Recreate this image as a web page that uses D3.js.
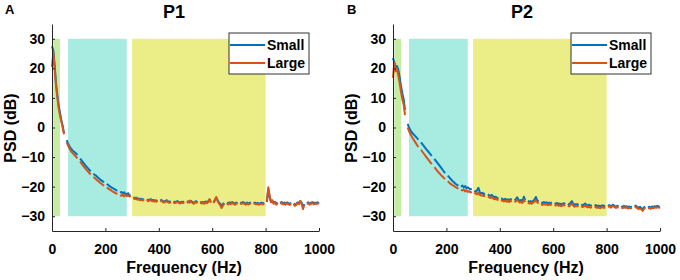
<!DOCTYPE html>
<html><head><meta charset="utf-8">
<script src="https://cdn.jsdelivr.net/npm/d3@7"></script>
<style>body{margin:0;background:#fff}svg{display:block}text{font-family:"Liberation Sans",Arial,sans-serif;font-weight:bold;fill:#000}</style>
</head><body><svg id="c" width="680" height="280"></svg>
<script>
// ---- data ----
const freqStep = 5; // Hz spacing of the PSD estimates
const xTicks = [0, 200, 400, 600, 800, 1000];
const yTicks = [-30, -20, -10, 0, 10, 20, 30];
const bandNames = ["low", "mid", "high"];
const bandLo = [5, 60, 300];
const bandHi = [30, 280, 800];
const bandColors = ["#c4eca3", "#a7ebe1", "#ebee86"];
const seriesNames = ["Small", "Large"];
const seriesColors = ["#0072BD", "#D95319"];
const panelTitles = ["P1", "P2"];
const panelLetters = ["A", "B"];
const N = null;
// values at 0,5,10,...,1000 Hz (null = notched line-noise bins)
const p1Small = [27.5,26,21,15,11,7.5,5,2.5,0.5,-1.8,N,
 -4.3,-5.4,-6.3,-7,-7.6,-8,-8.4,-8.8,-9.3,N,
 -10.5,-11,-11.6,-12.2,-12.8,-13.3,-13.8,-14.4,-14.8,N,
 -15.6,-16,-16.3,-16.8,-17.1,-17.6,-17.9,-18.2,-18.5,N,
 -19.1,-19.4,-19.8,-20.1,-20.4,-20.6,-20.9,-21.2,-21.3,N,
 -22,-21.8,-22.3,-21.9,-22.4,-22.6,-22.2,-23,-22.9,N,
 -23.6,-23.9,-23.7,-24.1,-24.0,-24.3,-24.1,-24.4,-24.2,N,
 -24.3,-24.6,-24.4,-24.2,-24.7,-24.5,-24.8,-24.6,-24.9,N,
 -24.7,-24.5,-24.9,-25.1,-24.8,-24.6,-25.0,-25.2,-24.9,N,
 -25.0,-25.3,-25.1,-24.9,-25.2,-25.4,-25.1,-25.3,-25.0,N,
 -25.2,-25.0,-25.4,-24.8,-25.1,-25.5,-25.2,-24.9,-25.3,N,
 -25.1,-25.4,-25.2,-25.5,-25.0,-25.3,-24.9,-24.4,-25.2,N,
 -25.3,-24.6,-23.8,-24.5,-25.4,-25.8,-26.4,-25.9,-25.5,N,
 -25.4,-25.7,-25.3,-25.6,-25.2,-25.5,-25.8,-25.4,-25.6,N,
 -25.3,-25.6,-25.2,-25.5,-25.8,-25.4,-25.7,-25.5,-25.3,N,
 -25.6,-25.4,-25.7,-25.5,-25.8,-25.6,-25.4,-25.7,-25.5,N,
 -25.2,-20.8,-23.4,-25.0,-24.6,-25.5,-25.1,-25.8,-25.3,N,
 -25.6,-25.2,-25.7,-25.4,-25.8,-25.3,-25.6,-25.9,-25.4,N,
 -25.7,-26.2,-25.8,-25.3,-25.6,-24.9,-25.5,-26.8,-25.9,N,
 -25.6,-25.3,-25.8,-25.5,-25.2,-25.7,-25.4,-25.6,-25.3,-25.5];
const p1Large = [20.5,25.5,20,14,10,6.5,4,2,0,-2.3,N,
 -5.0,-6.1,-7.0,-7.8,-8.4,-8.9,-9.4,-9.9,-10.4,N,
 -11.5,-12.1,-12.7,-13.3,-13.9,-14.4,-14.9,-15.4,-15.9,N,
 -16.7,-17.1,-17.5,-17.9,-18.3,-18.7,-19,-19.4,-19.7,N,
 -20.3,-20.6,-20.9,-21.2,-21.5,-21.8,-22,-22.3,-22.5,N,
 -22.9,-23.1,-22.5,-23.3,-22.8,-23.2,-22.9,-23.3,-23.1,N,
 -23.9,-24.2,-24.0,-24.4,-24.3,-24.6,-24.4,-24.7,-24.5,N,
 -24.6,-24.9,-24.7,-24.5,-25.0,-24.8,-25.1,-24.9,-25.2,N,
 -25.0,-24.8,-25.2,-25.4,-25.1,-24.9,-25.3,-25.5,-25.2,N,
 -25.3,-25.6,-25.4,-25.2,-25.5,-25.7,-25.4,-25.6,-25.3,N,
 -25.5,-25.3,-24.7,-25.1,-25.4,-25.8,-25.5,-25.2,-25.6,N,
 -25.4,-25.7,-25.5,-25.8,-25.3,-25.6,-25.2,-24.2,-25.4,N,
 -25.6,-24.4,-23.5,-24.8,-25.7,-26.3,-27.2,-26.4,-25.8,N,
 -25.7,-26.0,-25.6,-25.9,-25.5,-25.8,-26.1,-25.7,-25.9,N,
 -25.6,-25.9,-25.5,-25.8,-26.1,-25.7,-26.0,-25.8,-25.6,N,
 -25.9,-25.7,-26.0,-25.8,-26.1,-25.9,-25.7,-26.0,-25.8,N,
 -25.0,-20.2,-23.0,-25.3,-24.8,-25.8,-25.4,-26.1,-25.6,N,
 -25.9,-25.5,-26.0,-25.7,-26.1,-25.6,-25.9,-26.2,-25.7,N,
 -26.0,-26.5,-26.1,-25.6,-25.9,-24.8,-25.8,-27.6,-26.2,N,
 -25.9,-25.6,-26.1,-25.8,-25.5,-26.0,-25.7,-25.9,-25.6,-25.8];
const p2Small = [23.5,22,20.5,20.8,19.5,17,14,11.5,9.5,6,N,
 1.2,0,-0.9,-1.6,-2.1,-2.6,-3.1,-3.6,-4.1,N,
 -5.0,-5.6,-6.2,-6.8,-7.4,-7.9,-8.5,-9.0,-9.6,N,
 -10.6,-11.2,-11.8,-12.4,-13.0,-13.6,-14.2,-14.8,-15.4,N,
 -16.3,-16.8,-17.3,-17.8,-18.3,-18.7,-19.1,-19.4,-19.7,N,
 -20.0,-19.6,-20.3,-19.8,-20.5,-20.2,-20.6,-20.9,-20.7,N,
 -21.4,-21.8,-21.2,-20.4,-21.9,-22.3,-22.1,-22.5,-22.4,N,
 -22.6,-22.9,-23.1,-22.8,-23.3,-23.6,-23.4,-23.8,-24.0,N,
 -23.9,-24.2,-24.4,-24.1,-24.5,-24.3,-24.6,-24.2,-24.5,N,
 -24.7,-24.3,-23.6,-24.4,-24.8,-24.5,-24.9,-23.4,-24.6,N,
 -24.8,-25.1,-24.9,-25.2,-24.8,-24.4,-23.5,-24.6,-25.1,N,
 -25.3,-25.6,-25.2,-25.5,-25.3,-25.7,-25.4,-25.6,-25.3,N,
 -25.6,-25.8,-25.5,-25.9,-25.7,-26.0,-25.8,-25.6,-25.9,N,
 -25.8,-26.1,-25.4,-24.9,-25.8,-26.2,-25.9,-26.1,-25.8,N,
 -26.0,-26.3,-26.1,-25.7,-26.2,-26.4,-26.1,-26.5,-26.3,N,
 -26.5,-26.2,-26.6,-26.4,-26.7,-26.5,-26.3,-26.6,-26.4,N,
 -26.5,-26.2,-26.7,-26.4,-26.1,-26.6,-26.8,-26.5,-26.7,N,
 -26.6,-26.9,-26.5,-26.8,-26.6,-27.0,-26.7,-26.9,-26.8,N,
 -26.7,-26.4,-26.9,-27.1,-26.8,-27.3,-27.6,-27.0,-26.8,N,
 -27.0,-26.8,-27.1,-26.7,-26.9,-26.6,-26.8,-26.5,-26.7,-26.8];
const p2Large = [16.8,22,19,20,17.5,15,12,9.5,7.8,4.2,N,
 0,-1.2,-2.2,-3.0,-3.8,-4.5,-5.2,-5.9,-6.6,N,
 -7.6,-8.2,-8.8,-9.4,-10.0,-10.6,-11.2,-11.8,-12.4,N,
 -13.4,-14.0,-14.6,-15.1,-15.6,-16.1,-16.6,-17.0,-17.4,N,
 -18.2,-18.6,-19.0,-19.3,-19.6,-19.9,-20.2,-20.4,-20.7,N,
 -21.0,-21.3,-21.0,-21.6,-21.2,-21.8,-21.5,-22.0,-21.7,N,
 -22.0,-22.4,-22.6,-22.0,-22.8,-23.0,-22.9,-23.2,-23.1,N,
 -23.4,-23.6,-23.8,-23.5,-24.0,-24.3,-24.1,-24.4,-24.6,N,
 -24.5,-24.8,-25.0,-24.7,-25.1,-24.9,-25.2,-24.8,-25.1,N,
 -25.3,-24.9,-24.5,-25.0,-25.4,-25.1,-25.5,-24.4,-25.2,N,
 -25.4,-25.7,-25.5,-25.8,-25.4,-25.1,-24.6,-25.3,-25.7,N,
 -25.9,-26.2,-25.8,-26.1,-25.9,-26.3,-26.0,-26.2,-25.9,N,
 -26.2,-26.4,-26.1,-26.5,-26.3,-26.6,-26.4,-26.2,-26.5,N,
 -26.4,-26.7,-26.1,-25.7,-26.4,-26.8,-26.5,-26.7,-26.4,N,
 -26.6,-26.9,-26.7,-26.3,-26.8,-27.0,-26.7,-27.1,-26.9,N,
 -27.1,-26.8,-27.2,-27.0,-27.3,-27.1,-26.9,-27.2,-27.0,N,
 -26.9,-26.6,-27.1,-26.8,-26.5,-27.0,-27.2,-26.9,-27.1,N,
 -27.0,-27.3,-26.9,-27.2,-27.0,-27.4,-27.1,-27.3,-27.2,N,
 -27.1,-26.8,-27.3,-27.6,-27.3,-27.7,-28.2,-27.5,-27.2,N,
 -27.4,-27.2,-27.5,-27.1,-27.3,-27.0,-27.2,-26.9,-27.1,-27.2];

// ---- drawing ----
const svg = d3.select("#c");
const panels = [
  {left: 52, right: 319, series: [p1Small, p1Large], letterX: 5, titleX: 174, ylabX: 16, xlabX: 184, legX: 229},
  {left: 393, right: 660, series: [p2Small, p2Large], letterX: 347, titleX: 522, ylabX: 357, xlabX: 526, legX: 571}
];
const plotTop = 24, plotBottom = 231;
const axisColor = "#262626";

panels.forEach((p, pi) => {
  const x = d3.scaleLinear().domain([0, 1000]).range([p.left, p.right]);
  const y = d3.scaleLinear().domain([-35, 35]).range([plotBottom, plotTop]);
  const g = svg.append("g");

  // bands
  g.selectAll("rect.band").data(bandNames).join("rect")
    .attr("x", (d, i) => x(bandLo[i]))
    .attr("width", (d, i) => x(bandHi[i]) - x(bandLo[i]))
    .attr("y", y(30)).attr("height", y(-30) - y(30))
    .attr("fill", (d, i) => bandColors[i]);

  // lines
  const line = d3.line()
    .defined(d => d.v !== null)
    .x(d => x(d.f)).y(d => y(d.v));
  p.series.forEach((vals, si) => {
    const pts = vals.map((v, i) => ({f: i * freqStep, v}));
    g.append("path").datum(pts).attr("d", line)
      .attr("fill", "none").attr("stroke", seriesColors[si])
      .attr("stroke-width", 2).attr("stroke-linejoin", "round");
  });

  // axes
  const xa = g.append("g").attr("transform", `translate(0,${plotBottom})`)
    .call(d3.axisBottom(x).tickValues(xTicks).tickFormat(d3.format("d")).tickSize(-3).tickPadding(10).tickSizeOuter(0));
  const ya = g.append("g").attr("transform", `translate(${p.left},0)`)
    .call(d3.axisLeft(y).tickValues(yTicks).tickFormat(d3.format("d")).tickSize(-3).tickPadding(7).tickSizeOuter(0));
  [xa, ya].forEach(a => {
    a.select(".domain").attr("stroke", axisColor).attr("stroke-width", 1);
    a.selectAll(".tick line").attr("stroke", axisColor);
    a.selectAll(".tick text").style("font-size", "14px").style("font-family", "Liberation Sans, Arial, sans-serif").style("font-weight", "bold").attr("fill", "#000");
  });
  xa.selectAll(".tick text").attr("dy", "0.9em");

  // titles
  svg.append("text").attr("x", p.titleX).attr("y", 18).attr("text-anchor", "middle")
    .style("font-size", "18px").text(panelTitles[pi]);
  svg.append("text").attr("x", p.letterX).attr("y", 14)
    .style("font-size", "13px").text(panelLetters[pi]);
  svg.append("text").attr("x", p.xlabX).attr("y", 273).attr("text-anchor", "middle")
    .style("font-size", "16px").text("Frequency (Hz)");
  svg.append("text").attr("transform", `translate(${p.ylabX},128) rotate(-90)`)
    .attr("text-anchor", "middle").style("font-size", "16px").text("PSD (dB)");

  // legend
  const lg = svg.append("g").attr("transform", `translate(${p.legX},33)`);
  lg.append("rect").attr("width", 80).attr("height", 41)
    .attr("fill", "#fff").attr("stroke", "#333").attr("stroke-width", 1);
  seriesNames.forEach((n, si) => {
    const yy = 12 + si * 18;
    lg.append("line").attr("x1", 1).attr("x2", 36).attr("y1", yy).attr("y2", yy)
      .attr("stroke", seriesColors[si]).attr("stroke-width", 2);
    lg.append("text").attr("x", 38).attr("y", yy + 5).style("font-size", "14px").text(n);
  });
});
</script></body></html>
